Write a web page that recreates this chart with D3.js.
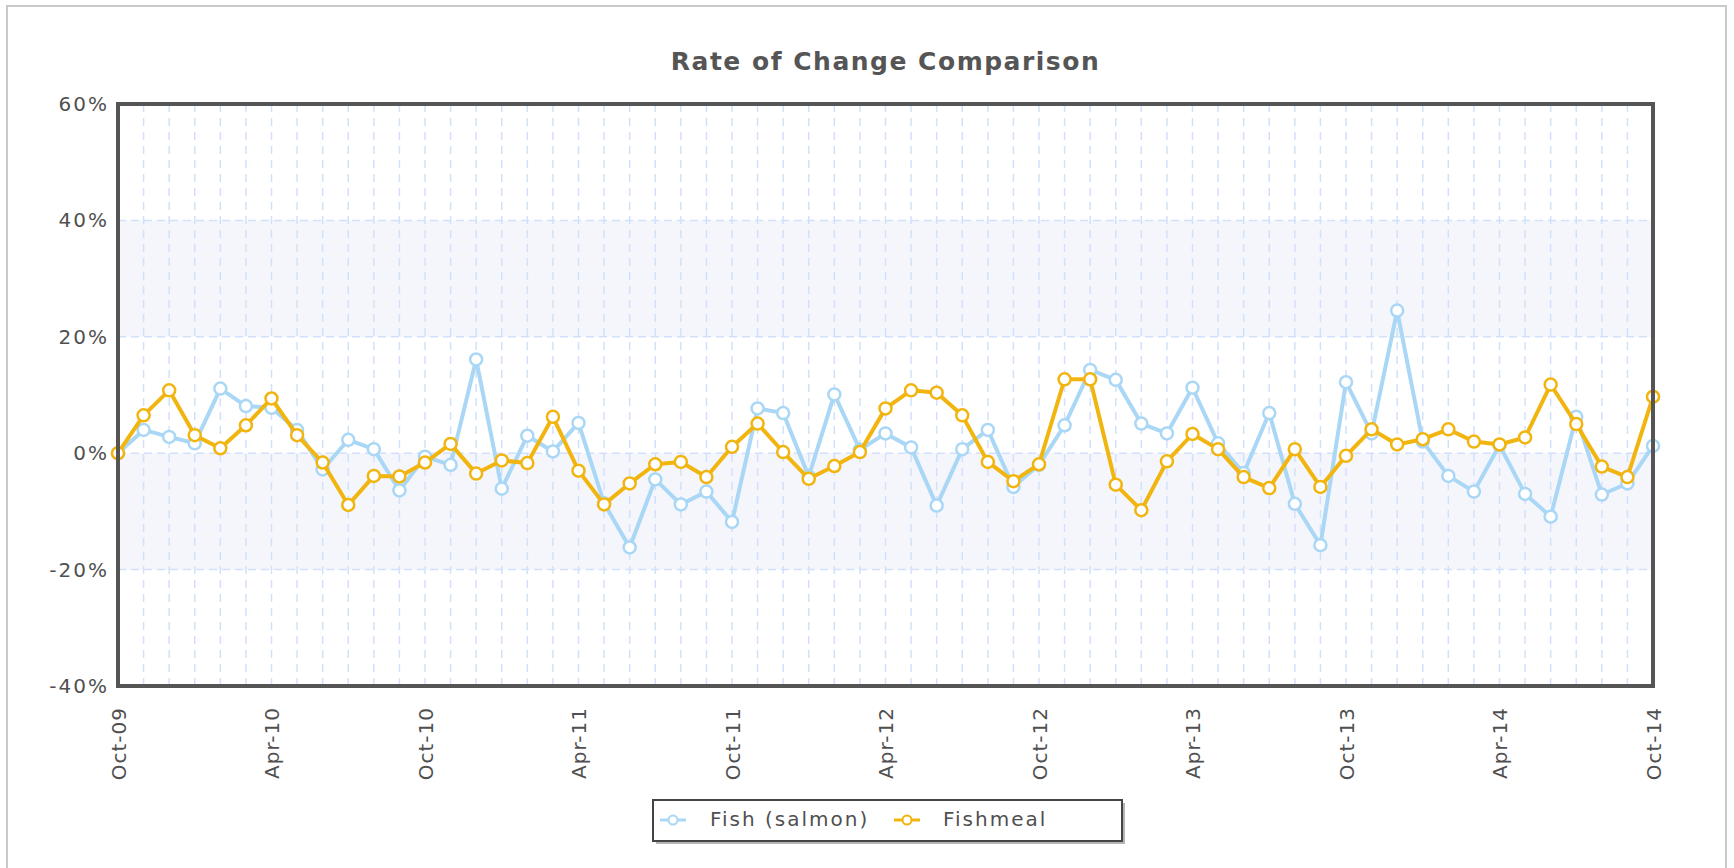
<!DOCTYPE html>
<html>
<head>
<meta charset="utf-8">
<script src="https://cdn.jsdelivr.net/npm/d3@7/dist/d3.min.js"></script>
<style>
  html, body { margin: 0; padding: 0; background: #fff; }
  svg { display: block; font-family: "DejaVu Sans", Verdana, sans-serif; }
</style>
</head>
<body>
<svg id="chart" width="1734" height="868"></svg>
<script>
// ---------------- data ----------------
const months = [
  "Oct-09","Nov-09","Dec-09","Jan-10","Feb-10","Mar-10","Apr-10","May-10","Jun-10","Jul-10","Aug-10","Sep-10",
  "Oct-10","Nov-10","Dec-10","Jan-11","Feb-11","Mar-11","Apr-11","May-11","Jun-11","Jul-11","Aug-11","Sep-11",
  "Oct-11","Nov-11","Dec-11","Jan-12","Feb-12","Mar-12","Apr-12","May-12","Jun-12","Jul-12","Aug-12","Sep-12",
  "Oct-12","Nov-12","Dec-12","Jan-13","Feb-13","Mar-13","Apr-13","May-13","Jun-13","Jul-13","Aug-13","Sep-13",
  "Oct-13","Nov-13","Dec-13","Jan-14","Feb-14","Mar-14","Apr-14","May-14","Jun-14","Jul-14","Aug-14","Sep-14",
  "Oct-14"
];
const fishSalmon = [
  0, 4.0, 2.8, 1.7, 11.1, 8.1, 7.8, 4.0, -2.8, 2.3,
  0.7, -6.4, -0.6, -2.0, 16.1, -6.1, 3.0, 0.3, 5.2, -8.6,
  -16.2, -4.5, -8.8, -6.6, -11.8, 7.7, 6.9, -4.0, 10.1, 0.6,
  3.4, 1.0, -9.0, 0.7, 4.0, -5.8, -2.0, 4.8, 14.3, 12.6,
  5.1, 3.4, 11.25, 1.7, -3.4, 6.9, -8.7, -15.8, 12.2, 3.4,
  24.5, 2.0, -3.9, -6.6, 1.4, -7.0, -10.9, 6.25, -7.1, -5.2,
  1.25
];
const fishmeal = [
  0, 6.5, 10.8, 3.1, 0.85, 4.8, 9.4, 3.1, -1.6, -8.9,
  -3.9, -4.0, -1.6, 1.6, -3.5, -1.25, -1.7, 6.25, -3.0, -8.8,
  -5.2, -1.9, -1.5, -4.1, 1.1, 5.1, 0.2, -4.4, -2.2, 0.2,
  7.7, 10.8, 10.4, 6.5, -1.5, -4.8, -1.9, 12.7, 12.7, -5.4,
  -9.8, -1.4, 3.3, 0.7, -4.1, -6.0, 0.7, -5.8, -0.45, 4.1,
  1.5, 2.4, 4.1, 2.0, 1.5, 2.7, 11.8, 5.0, -2.3, -4.1,
  9.7
];
const xTickLabels = ["Oct-09","Apr-10","Oct-10","Apr-11","Oct-11","Apr-12","Oct-12","Apr-13","Oct-13","Apr-14","Oct-14"];
const yTickValues = [-40, -20, 0, 20, 40, 60];
const bandRanges = [[20, 40], [-20, 0]];
const seriesNames = ["Fish (salmon)", "Fishmeal"];
const seriesColors = ["#a9d7f5", "#f2b50f"];

// ---------------- layout ----------------
const svg = d3.select("#chart");
const L = 118, R = 1653, T = 104, B = 686;

const x = d3.scalePoint().domain(months).range([L, R]);
const y = d3.scaleLinear().domain([-40, 60]).range([B, T]);

// outer frame
svg.append("rect").attr("x", 7).attr("y", 6).attr("width", 1719).attr("height", 900)
  .attr("fill", "#fff").attr("stroke", "#c9c9c9").attr("stroke-width", 2);

// title
svg.append("text").attr("x", (L + R) / 2).attr("y", 70)
  .attr("text-anchor", "middle").attr("font-size", 25).attr("font-weight", "bold")
  .attr("letter-spacing", 1.5).attr("fill", "#555").text("Rate of Change Comparison");

// bands
svg.append("g").selectAll("rect").data(bandRanges).join("rect")
  .attr("x", L).attr("width", R - L)
  .attr("y", d => y(d[1])).attr("height", d => y(d[0]) - y(d[1]))
  .attr("fill", "#f4f6fc");

// vertical grid lines
svg.append("g").selectAll("line").data(months.slice(1, -1)).join("line")
  .attr("x1", d => x(d)).attr("x2", d => x(d)).attr("y1", T).attr("y2", B)
  .attr("stroke", "#d2e1fb").attr("stroke-width", 1.5).attr("stroke-dasharray", "8,6");

// horizontal grid lines
svg.append("g").selectAll("line").data(yTickValues.slice(1, -1)).join("line")
  .attr("x1", L).attr("x2", R).attr("y1", d => y(d)).attr("y2", d => y(d))
  .attr("stroke", "#d2e1fb").attr("stroke-width", 1.5).attr("stroke-dasharray", "8,5");

// y axis
const yAxis = svg.append("g").attr("transform", `translate(${L},0)`)
  .call(d3.axisLeft(y).tickValues(yTickValues).tickFormat(d => d + "%").tickSize(0).tickPadding(9));
yAxis.select(".domain").remove();
yAxis.selectAll("text").attr("font-size", 20).attr("letter-spacing", 2)
  .attr("fill", "#505050").attr("font-family", "DejaVu Sans, sans-serif");

// x axis
const xAxis = svg.append("g").attr("transform", `translate(0,${B})`)
  .call(d3.axisBottom(x).tickValues(xTickLabels).tickSize(0));
xAxis.select(".domain").remove();
xAxis.selectAll("text")
  .attr("transform", "rotate(-90)")
  .attr("text-anchor", "end")
  .attr("x", -21).attr("y", 0).attr("dy", "0.35em")
  .attr("font-size", 20).attr("letter-spacing", 1)
  .attr("fill", "#505050").attr("font-family", "DejaVu Sans, sans-serif");

// series
const series = [fishSalmon, fishmeal];
const line = d3.line().x((d, i) => x(months[i])).y(d => y(d));
series.forEach((vals, si) => {
  const g = svg.append("g");
  g.append("path").datum(vals).attr("d", line)
    .attr("fill", "none").attr("stroke", seriesColors[si]).attr("stroke-width", 4)
    .attr("stroke-linejoin", "round");
  g.selectAll("circle").data(vals).join("circle")
    .attr("cx", (d, i) => x(months[i])).attr("cy", d => y(d)).attr("r", 6)
    .attr("fill", "#fff").attr("stroke", seriesColors[si]).attr("stroke-width", 2.5);
});

// plot border
svg.append("rect").attr("x", L).attr("y", T).attr("width", R - L).attr("height", B - T)
  .attr("fill", "none").attr("stroke", "#555").attr("stroke-width", 4);

// legend
const lg = svg.append("g");
lg.append("rect").attr("x", 656).attr("y", 803).attr("width", 469).attr("height", 41)
  .attr("fill", "#b5b5b5");
lg.append("rect").attr("x", 653).attr("y", 800).attr("width", 469).attr("height", 41)
  .attr("fill", "#fff").attr("stroke", "#444").attr("stroke-width", 2);
const legendItems = [
  { name: seriesNames[0], color: seriesColors[0], mx: 673, tx: 710 },
  { name: seriesNames[1], color: seriesColors[1], mx: 907, tx: 943 }
];
legendItems.forEach(it => {
  lg.append("line").attr("x1", it.mx - 13).attr("x2", it.mx + 13).attr("y1", 820).attr("y2", 820)
    .attr("stroke", it.color).attr("stroke-width", 3);
  lg.append("circle").attr("cx", it.mx).attr("cy", 820).attr("r", 4.5)
    .attr("fill", "#fff").attr("stroke", it.color).attr("stroke-width", 2);
  lg.append("text").attr("x", it.tx).attr("y", 826).attr("font-size", 20)
    .attr("letter-spacing", 2).attr("fill", "#505050").text(it.name);
});
</script>
</body>
</html>
